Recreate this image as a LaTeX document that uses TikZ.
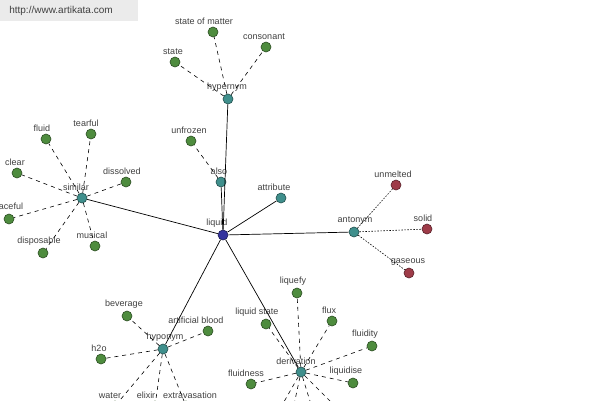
\documentclass[tikz,border=0pt]{standalone}
\usepackage{fontspec}
\setmainfont{Liberation Sans}
\definecolor{cgreen}{HTML}{4E8C3E}
\definecolor{cteal}{HTML}{3F8F8C}
\definecolor{cred}{HTML}{9E3B48}
\definecolor{cblue}{HTML}{33339E}
\definecolor{ctext}{HTML}{404040}
\definecolor{cbox}{HTML}{EBEBEB}
\begin{document}
\begin{tikzpicture}[x=1pt,y=-1pt,
  dotnode/.style={circle,draw=#1!55!black,fill=#1,minimum size=10pt,inner sep=0pt,line width=0.6pt},
  gn/.style={dotnode=cgreen},
  tn/.style={dotnode=cteal},
  rn/.style={dotnode=cred},
  bn/.style={dotnode=cblue},
  lbl/.style={font=\fontsize{9}{10}\selectfont,text=ctext,inner sep=0pt},
  label distance=2pt,
  every label/.style={lbl},
  solidedge/.style={draw=black,line width=0.7pt},
  dashedge/.style={draw=black,line width=0.6pt,dash pattern=on 4pt off 4pt},
  dotedge/.style={draw=black,line width=0.6pt,dash pattern=on 1.5pt off 1.5pt}]
\useasboundingbox (0,0) rectangle (600,400);
\fill[white] (0,0) rectangle (600,400);
\clip (0,0) rectangle (600,400);
% url box
\fill[cbox] (0,0) rectangle (138,21);
\node[font=\fontsize{10}{12}\selectfont,text=ctext,inner sep=0pt] (url) at (61,11) {http://www.artikata.com};
% centre
\node[bn,label={[xshift=-6pt]above:liquid}] (liquid) at (223,235) {};
% relation nodes
\node[tn,label={[xshift=-1pt]above:hypernym}] (hypernym) at (228,99) {};
\node[tn,label={[xshift=-2pt]above:also}] (also) at (221,182) {};
\node[tn,label={[xshift=-7pt]above:attribute}] (attribute) at (281,198) {};
\node[tn,label={[xshift=-6pt]above:similar}] (similar) at (82,198) {};
\node[tn,label={[xshift=1pt]above:antonym}] (antonym) at (354,232) {};
\node[tn,label={[xshift=2pt]above:hyponym}] (hyponym) at (163,349) {};
\node[tn,label={[xshift=-5pt]above:derivation}] (derivation) at (301,372) {};
% hypernym leaves
\node[gn,label={[xshift=-9pt]above:state of matter}] (som) at (213,32) {};
\node[gn,label={[xshift=-2pt]above:state}] (state) at (175,62) {};
\node[gn,label={[xshift=-2pt]above:consonant}] (consonant) at (266,47) {};
% also leaf
\node[gn,label={[xshift=-2pt]above:unfrozen}] (unfrozen) at (191,141) {};
% similar leaves
\node[gn,label={[xshift=-4pt]above:fluid}] (fluid) at (46,139) {};
\node[gn,label={[xshift=-5pt]above:tearful}] (tearful) at (91,134) {};
\node[gn,label={[xshift=-2pt]above:clear}] (clear) at (17,173) {};
\node[gn,label={[xshift=-4pt]above:dissolved}] (dissolved) at (126,182) {};
\node[gn,label={[xshift=-3pt]above:peaceful}] (peaceful) at (9,219) {};
\node[gn,label={[xshift=-4pt]above:disposable}] (disposable) at (43,253) {};
\node[gn,label={[xshift=-3pt]above:musical}] (musical) at (95,246) {};
% antonym leaves
\node[rn,label={[xshift=-3pt]above:unmelted}] (unmelted) at (396,185) {};
\node[rn,label={[xshift=-4pt]above:solid}] (solid) at (427,229) {};
\node[rn,label={[xshift=-1pt]above:gaseous}] (gaseous) at (409,273) {};
% hyponym leaves
\node[gn,label={[xshift=-3pt]above:beverage}] (beverage) at (127,316) {};
\node[gn,label={[xshift=-12pt]above:artificial blood}] (artblood) at (208,331) {};
\node[gn,label={[xshift=-2pt]above:h2o}] (h2o) at (101,359) {};
\node[gn,label={[xshift=-5pt]above:water}] (water) at (115,406) {};
\node[gn,label={[xshift=-9pt]above:elixir}] (elixir) at (155,406) {};
\node[gn,label={[xshift=4pt]above:extravasation}] (extrav) at (186,406) {};
% derivation leaves
\node[gn,label={[xshift=-4pt]above:liquefy}] (liquefy) at (297,293) {};
\node[gn,label={[xshift=-9pt]above:liquid state}] (lstate) at (266,324) {};
\node[gn,label={[xshift=-3pt]above:flux}] (flux) at (332,321) {};
\node[gn,label={[xshift=-7pt]above:fluidity}] (fluidity) at (372,346) {};
\node[gn,label={[xshift=-5pt]above:fluidness}] (fluidness) at (251,384) {};
\node[gn,label={[xshift=-7pt]above:liquidise}] (liquidise) at (353,383) {};
\coordinate (d1) at (277,414);
\coordinate (d2) at (292,414);
\coordinate (d3) at (314,414);
\coordinate (d4) at (343,414);
% solid edges
\foreach \n in {hypernym,also,attribute,similar,antonym,hyponym,derivation}
  \draw[solidedge] (liquid) -- (\n);
% dashed edges
\foreach \n in {som,state,consonant} \draw[dashedge] (hypernym) -- (\n);
\draw[dashedge] (also) -- (unfrozen);
\foreach \n in {fluid,tearful,clear,dissolved,peaceful,disposable,musical} \draw[dashedge] (similar) -- (\n);
\foreach \n in {beverage,artblood,h2o,water,elixir,extrav} \draw[dashedge] (hyponym) -- (\n);
\foreach \n in {liquefy,lstate,flux,fluidity,fluidness,liquidise,d1,d2,d3,d4} \draw[dashedge] (derivation) -- (\n);
% dotted edges
\foreach \n in {unmelted,solid,gaseous} \draw[dotedge] (antonym) -- (\n);
\end{tikzpicture}
\end{document}
